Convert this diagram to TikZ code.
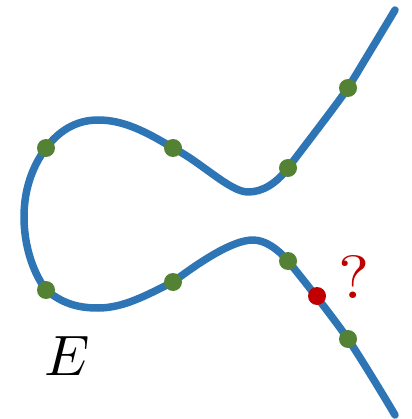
\documentclass[tikz,border=0pt]{standalone}
\usepackage{tikz}
\definecolor{curveblue}{RGB}{46,117,182}
\definecolor{ptgreen}{RGB}{84,130,53}
\definecolor{ptred}{RGB}{192,0,0}

\begin{document}
\begin{tikzpicture}[x=1pt, y=-1pt,
  curve/.style={curveblue, line width=7.5pt, line cap=round, line join=round},
  pt/.style={circle, fill=ptgreen, inner sep=0pt, minimum size=18pt},
  badpt/.style={circle, fill=ptred, inner sep=0pt, minimum size=18pt}]
\useasboundingbox (0,0) rectangle (411,419);
\draw[curve] (395,10) .. controls (383,30) and (360,68) .. (348,88)
  .. controls (334,108) and (300,152) .. (288,168)
  .. controls (276,184) and (262,192) .. (248,192)
  .. controls (230,192) and (201,162) .. (173,148)
  .. controls (145,131) and (123,120) .. (98,120)
  .. controls (75,120) and (58,132) .. (46,148)
  .. controls (32,167) and (24,190) .. (24,217)
  .. controls (24,244) and (32,271) .. (46,290)
  .. controls (61,302) and (75,308) .. (98,308)
  .. controls (123,308) and (145,296) .. (173,282)
  .. controls (201,261) and (233,240) .. (253,240)
  .. controls (265,240) and (278,249) .. (288,261)
  .. controls (302,278) and (332,316) .. (348,339)
  .. controls (360,357) and (382,393) .. (395,415);
\node[pt] (p1) at (348,88) {};
\node[pt] (p2) at (288,168) {};
\node[pt] (p3) at (173,148) {};
\node[pt] (p4) at (46,148) {};
\node[pt] (p5) at (46,290) {};
\node[pt] (p6) at (173,282) {};
\node[pt] (p7) at (288,261) {};
\node[pt] (p8) at (348,339) {};
\node[badpt] (q) at (317,296) {};
\node[ptred, inner sep=0pt, xscale=6.6, yscale=6.1] (qmark) at (354,277) {?};
\node[inner sep=0pt, scale=5.7] (curvename) at (67,356) {$E$};
\end{tikzpicture}
\end{document}
